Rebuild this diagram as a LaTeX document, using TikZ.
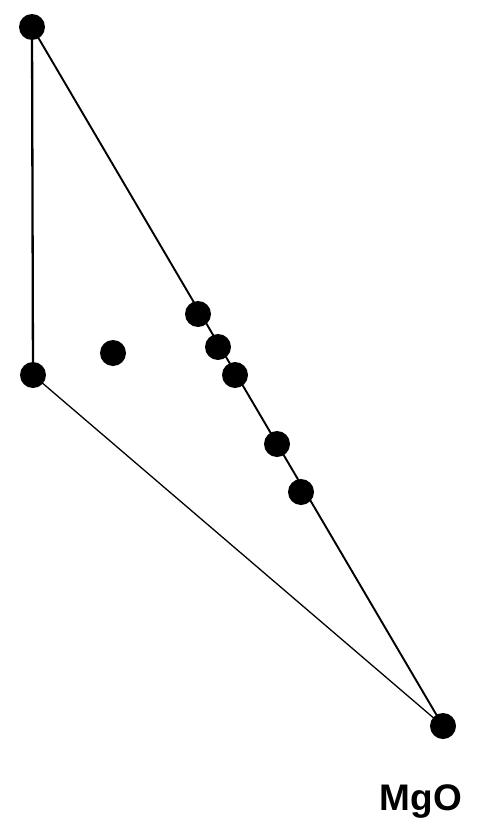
\documentclass[tikz,border=0pt]{standalone}
\usepackage{fontspec}
\setmainfont{Liberation Sans}
\begin{document}
\begin{tikzpicture}[x=1pt, y=-1pt, line join=round, line cap=round,
	diem/.style={circle, fill=black, inner sep=0pt, minimum size=26pt}]
				% Khung hình
				\useasboundingbox (0,0) rectangle (477,832);
				
				% Các đỉnh
				\node[diem] (A) at (32,27) {};
				\node[diem] (B) at (33,375) {};
				\node[diem] (C) at (443,726) {};
				
				% Các cạnh
				\draw[line width=2.3pt] (A.center) -- (B.center);
				\draw[line width=1.9pt] (A.center) -- (C.center);
				\draw[line width=1.3pt] (B.center) -- (C.center);
				
				% Các điểm trên cạnh
				\node[diem] (P1) at (198,314) {};
				\node[diem] (P2) at (218,347) {};
				\node[diem] (P3) at (235,375) {};
				\node[diem] (P4) at (277,444) {};
				\node[diem] (P5) at (301,492) {};
				\node[diem] (Q) at (113,353) {};
				
				% Ghi chú
				\node[anchor=base, font=\fontsize{37}{40}\selectfont\bfseries] (mgo) at (421,810) {MgO};
			\end{tikzpicture}
\end{document}
